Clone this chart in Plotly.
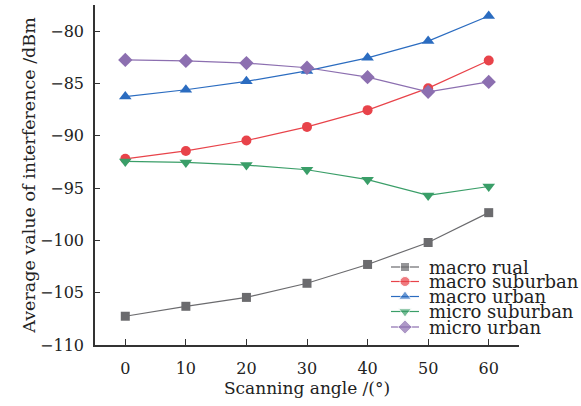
import plotly.graph_objects as go

angles = [0, 10, 20, 30, 40, 50, 60]
macro_rual = [-107.25, -106.3, -105.45, -104.1, -102.3, -100.2, -97.35]
macro_suburban = [-92.2, -91.45, -90.45, -89.15, -87.55, -85.45, -82.8]
macro_urban = [-86.25, -85.6, -84.8, -83.8, -82.55, -80.95, -78.55]
micro_suburban = [-92.45, -92.55, -92.8, -93.25, -94.2, -95.7, -94.85]
micro_urban = [-82.75, -82.85, -83.05, -83.5, -84.4, -85.8, -84.85]

series_names = ["macro rual", "macro suburban", "macro urban", "micro suburban", "micro urban"]
series_values = [macro_rual, macro_suburban, macro_urban, micro_suburban, micro_urban]
colors = ["#6b6b6e", "#e8434a", "#2b6cc0", "#3a9e68", "#8c6fb0"]
symbols = ["square", "circle", "triangle-up", "triangle-down", "diamond"]
sizes = [9, 10, 11, 11, 11]

font_family = "DejaVu Serif"
fig = go.Figure()
for name, vals, color, sym, sz in zip(series_names, series_values, colors, symbols, sizes):
    fig.add_trace(go.Scatter(
        x=angles, y=vals, name=name, mode="lines+markers",
        line=dict(color=color, width=1.2),
        marker=dict(symbol=sym, size=sz, color=color),
        showlegend=False,
    ))

# Custom legend drawn in a pixel-like overlay coordinate system
leg_rows = [267, 281.5, 296.5, 311.5, 327]
for i, (name, color, sym, sz) in enumerate(zip(series_names, colors, symbols, sizes)):
    fig.add_trace(go.Scatter(
        x=[391, 405, 419], y=[leg_rows[i]] * 3, xaxis="x2", yaxis="y2",
        mode="lines+markers", line=dict(color=color, width=1.2),
        marker=dict(symbol=sym, size=[0, sz, 0], color=color),
        showlegend=False, hoverinfo="skip",
    ))
    fig.add_annotation(x=427, y=leg_rows[i], xref="x2", yref="y2", text=name,
                       showarrow=False, xanchor="left", yanchor="middle",
                       font=dict(family=font_family, size=18, color="#222"))

fig.update_layout(
    width=581, height=406,
    margin=dict(l=95, r=62, t=5, b=61),
    paper_bgcolor="white", plot_bgcolor="white",
    font=dict(family=font_family, size=16, color="#222"),
    showlegend=False,
    xaxis=dict(range=[-5, 65], tickvals=angles, ticks="inside", ticklen=6,
               showline=True, linecolor="#333", linewidth=1.5, tickcolor="#333",
               showgrid=False, zeroline=False, ticklabelstandoff=8,
               tickfont=dict(size=16),
               title=dict(text="Scanning angle /(°)", font=dict(size=17), standoff=5)),
    yaxis=dict(range=[-110, -77.5], tickvals=[-110, -105, -100, -95, -90, -85, -80],
               ticktext=["\u2212110", "\u2212105", "\u2212100", "\u221295", "\u221290", "\u221285", "\u221280"],
               ticks="inside", ticklen=5,
               showline=True, linecolor="#333", linewidth=1.5, tickcolor="#333",
               showgrid=False, zeroline=False, ticklabelstandoff=6,
               tickfont=dict(size=16),
               title=dict(text="Average value of interference /dBm", font=dict(size=17.5), standoff=0)),
    xaxis2=dict(range=[95, 519], overlaying="x", visible=False, fixedrange=True),
    yaxis2=dict(range=[345, 5], overlaying="y", visible=False, fixedrange=True),
)

fig.write_html("out.html")
